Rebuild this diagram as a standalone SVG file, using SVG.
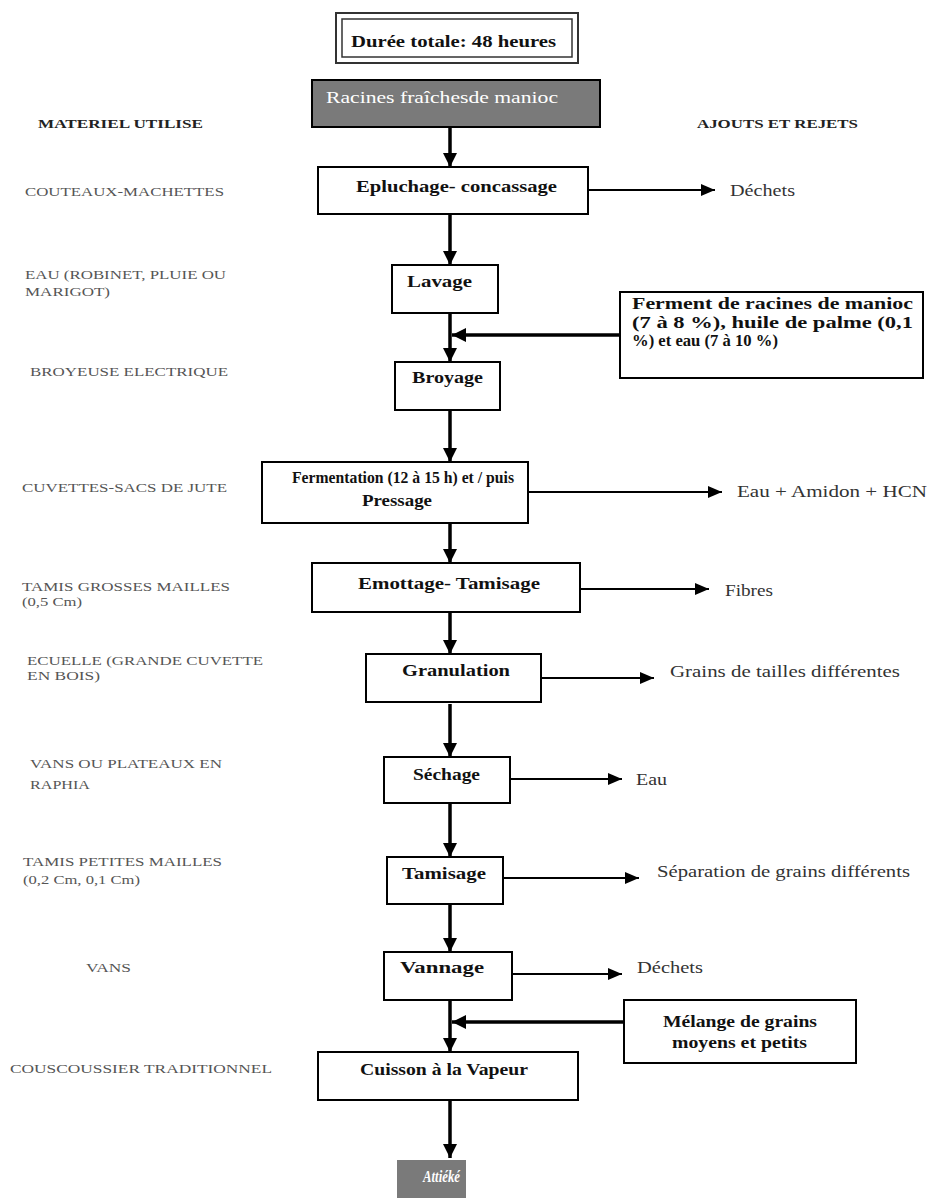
<svg xmlns="http://www.w3.org/2000/svg" width="928" height="1198" viewBox="0 0 928 1198">
  <defs>
    <marker id="headBold" markerUnits="userSpaceOnUse" markerWidth="14" markerHeight="14" viewBox="0 0 14 14" refX="14" refY="7" orient="auto">
      <path d="M0,0 L14,7 L0,14 Z" fill="#000"/>
    </marker>
    <marker id="headThin" markerUnits="userSpaceOnUse" markerWidth="14" markerHeight="12" viewBox="0 0 14 12" refX="14" refY="6" orient="auto">
      <path d="M0,0 L14,6 L0,12 Z" fill="#000"/>
    </marker>
  </defs>
  <style>
    text { font-family: "Liberation Serif", "DejaVu Serif", "Times New Roman", serif; }
    .box { fill: #fff; stroke: #000; stroke-width: 2; }
    .dark { fill: #7a7a7a; stroke: #000; stroke-width: 2; }
    .step { font-weight: bold; font-size: 16.5px; fill: #111; }
    .inv { font-size: 17px; fill: #fff; }
    .mat { font-size: 13px; fill: #555; }
    .head { font-weight: bold; font-size: 12.5px; fill: #222; }
    .out { font-size: 16.5px; fill: #333; }
    .flow { stroke: #000; stroke-width: 3.5; fill: none; }
    .side { stroke: #000; stroke-width: 2; fill: none; }
  </style>

  <rect width="928" height="1198" fill="#fff"/>

  <!-- column headings -->
  <g id="headings">
    <text class="head" x="38" y="128" textLength="165" lengthAdjust="spacingAndGlyphs">MATERIEL UTILISE</text>
    <text class="head" x="697" y="128" textLength="161" lengthAdjust="spacingAndGlyphs">AJOUTS ET REJETS</text>
  </g>

  <!-- equipment column -->
  <g id="materials">
    <text class="mat" x="25" y="196" textLength="199" lengthAdjust="spacingAndGlyphs">COUTEAUX-MACHETTES</text>
    <text class="mat" x="25" y="279" textLength="201" lengthAdjust="spacingAndGlyphs">EAU (ROBINET, PLUIE OU</text>
    <text class="mat" x="25" y="296" textLength="85" lengthAdjust="spacingAndGlyphs">MARIGOT)</text>
    <text class="mat" x="30" y="376" textLength="198" lengthAdjust="spacingAndGlyphs">BROYEUSE ELECTRIQUE</text>
    <text class="mat" x="22" y="492" textLength="205" lengthAdjust="spacingAndGlyphs">CUVETTES-SACS DE JUTE</text>
    <text class="mat" x="22" y="591" textLength="208" lengthAdjust="spacingAndGlyphs">TAMIS GROSSES MAILLES</text>
    <text class="mat" x="22" y="606" textLength="60" lengthAdjust="spacingAndGlyphs">(0,5 Cm)</text>
    <text class="mat" x="27" y="665" textLength="236" lengthAdjust="spacingAndGlyphs">ECUELLE (GRANDE CUVETTE</text>
    <text class="mat" x="27" y="680" textLength="73" lengthAdjust="spacingAndGlyphs">EN BOIS)</text>
    <text class="mat" x="30" y="768" textLength="192" lengthAdjust="spacingAndGlyphs">VANS OU PLATEAUX EN</text>
    <text class="mat" x="30" y="789" textLength="60" lengthAdjust="spacingAndGlyphs">RAPHIA</text>
    <text class="mat" x="23" y="866" textLength="199" lengthAdjust="spacingAndGlyphs">TAMIS PETITES MAILLES</text>
    <text class="mat" x="23" y="884" textLength="117" lengthAdjust="spacingAndGlyphs">(0,2 Cm, 0,1 Cm)</text>
    <text class="mat" x="86" y="972" textLength="45" lengthAdjust="spacingAndGlyphs">VANS</text>
    <text class="mat" x="10" y="1073" textLength="262" lengthAdjust="spacingAndGlyphs">COUSCOUSSIER TRADITIONNEL</text>
  </g>

  <!-- connectors -->
  <g id="connectors">
    <line class="flow" x1="450" y1="127" x2="450" y2="167" marker-end="url(#headBold)"/>
    <line class="flow" x1="450" y1="214" x2="450" y2="265" marker-end="url(#headBold)"/>
    <line class="flow" x1="450" y1="313" x2="450" y2="362" marker-end="url(#headBold)"/>
    <line class="flow" x1="450" y1="410" x2="450" y2="462" marker-end="url(#headBold)"/>
    <line class="flow" x1="450" y1="523" x2="450" y2="563" marker-end="url(#headBold)"/>
    <line class="flow" x1="450" y1="612" x2="450" y2="654" marker-end="url(#headBold)"/>
    <line class="flow" x1="450" y1="704" x2="450" y2="757" marker-end="url(#headBold)"/>
    <line class="flow" x1="450" y1="803" x2="450" y2="857" marker-end="url(#headBold)"/>
    <line class="flow" x1="450" y1="904" x2="450" y2="952" marker-end="url(#headBold)"/>
    <line class="flow" x1="450" y1="1000" x2="450" y2="1052" marker-end="url(#headBold)"/>
    <line class="flow" x1="450" y1="1100" x2="450" y2="1158" marker-end="url(#headBold)"/>
    <!-- inputs fed into the main line -->
    <line class="flow" x1="620" y1="335" x2="452" y2="335" marker-end="url(#headBold)"/>
    <line class="flow" x1="624" y1="1022" x2="452" y2="1022" marker-end="url(#headBold)"/>
    <!-- outputs leaving each step -->
    <line class="side" x1="588" y1="190" x2="715" y2="190" marker-end="url(#headThin)"/>
    <line class="side" x1="528" y1="492" x2="722" y2="492" marker-end="url(#headThin)"/>
    <line class="side" x1="580" y1="589" x2="709" y2="589" marker-end="url(#headThin)"/>
    <line class="side" x1="541" y1="678" x2="654" y2="678" marker-end="url(#headThin)"/>
    <line class="side" x1="510" y1="779" x2="622" y2="779" marker-end="url(#headThin)"/>
    <line class="side" x1="503" y1="878" x2="639" y2="878" marker-end="url(#headThin)"/>
    <line class="side" x1="512" y1="974" x2="622" y2="974" marker-end="url(#headThin)"/>
  </g>

  <!-- process steps -->
  <g id="duree">
    <rect x="336" y="13" width="242" height="50" fill="#fff" stroke="#333" stroke-width="2"/>
    <rect x="342" y="19" width="230" height="38" fill="none" stroke="#333" stroke-width="1.5"/>
    <text class="step" x="351" y="47" textLength="205" lengthAdjust="spacingAndGlyphs">Durée totale: 48 heures</text>
  </g>
  <g id="racines">
    <rect class="dark" x="312" y="80" width="288" height="47"/>
    <text class="inv" x="326" y="103" textLength="232" lengthAdjust="spacingAndGlyphs">Racines fraîchesde manioc</text>
  </g>
  <g id="epluchage">
    <rect class="box" x="318" y="167" width="270" height="47"/>
    <text class="step" x="356" y="192" textLength="201" lengthAdjust="spacingAndGlyphs">Epluchage- concassage</text>
  </g>
  <g id="dechets1"><text class="out" x="730" y="196" textLength="65" lengthAdjust="spacingAndGlyphs">Déchets</text></g>
  <g id="lavage">
    <rect class="box" x="392" y="265" width="106" height="48"/>
    <text class="step" x="407" y="287" textLength="65" lengthAdjust="spacingAndGlyphs">Lavage</text>
  </g>
  <g id="ferment">
    <rect class="box" x="620" y="292" width="303" height="86"/>
    <text class="step" x="632" y="309" textLength="281" lengthAdjust="spacingAndGlyphs">Ferment de racines de manioc</text>
    <text class="step" x="632" y="328" textLength="281" lengthAdjust="spacingAndGlyphs">(7 à 8 %), huile de palme (0,1</text>
    <text class="step" x="632" y="346" textLength="146" lengthAdjust="spacingAndGlyphs">%) et eau (7 à 10 %)</text>
  </g>
  <g id="broyage">
    <rect class="box" x="395" y="362" width="105" height="48"/>
    <text class="step" x="412" y="383" textLength="71" lengthAdjust="spacingAndGlyphs">Broyage</text>
  </g>
  <g id="fermentation">
    <rect class="box" x="262" y="462" width="266" height="61"/>
    <text class="step" x="292" y="483" textLength="222" lengthAdjust="spacingAndGlyphs">Fermentation (12 à 15 h) et / puis</text>
    <text class="step" x="362" y="506" textLength="70" lengthAdjust="spacingAndGlyphs">Pressage</text>
  </g>
  <g id="eau-amidon"><text class="out" x="737" y="497" textLength="190" lengthAdjust="spacingAndGlyphs">Eau + Amidon + HCN</text></g>
  <g id="emottage">
    <rect class="box" x="312" y="563" width="268" height="49"/>
    <text class="step" x="358" y="589" textLength="182" lengthAdjust="spacingAndGlyphs">Emottage- Tamisage</text>
  </g>
  <g id="fibres"><text class="out" x="725" y="596" textLength="48" lengthAdjust="spacingAndGlyphs">Fibres</text></g>
  <g id="granulation">
    <rect class="box" x="366" y="654" width="175" height="48"/>
    <text class="step" x="402" y="676" textLength="108" lengthAdjust="spacingAndGlyphs">Granulation</text>
  </g>
  <g id="grains"><text class="out" x="670" y="677" textLength="230" lengthAdjust="spacingAndGlyphs">Grains de tailles différentes</text></g>
  <g id="sechage">
    <rect class="box" x="384" y="757" width="126" height="46"/>
    <text class="step" x="413" y="780" textLength="67" lengthAdjust="spacingAndGlyphs">Séchage</text>
  </g>
  <g id="eau"><text class="out" x="636" y="785" textLength="31" lengthAdjust="spacingAndGlyphs">Eau</text></g>
  <g id="tamisage">
    <rect class="box" x="387" y="857" width="116" height="47"/>
    <text class="step" x="402" y="879" textLength="84" lengthAdjust="spacingAndGlyphs">Tamisage</text>
  </g>
  <g id="separation"><text class="out" x="657" y="877" textLength="253" lengthAdjust="spacingAndGlyphs">Séparation de grains différents</text></g>
  <g id="vannage">
    <rect class="box" x="384" y="952" width="128" height="48"/>
    <text class="step" x="400" y="973" textLength="84" lengthAdjust="spacingAndGlyphs">Vannage</text>
  </g>
  <g id="dechets2"><text class="out" x="637" y="973" textLength="66" lengthAdjust="spacingAndGlyphs">Déchets</text></g>
  <g id="melange">
    <rect class="box" x="624" y="1000" width="232" height="63"/>
    <text class="step" x="663" y="1027" textLength="154" lengthAdjust="spacingAndGlyphs">Mélange de grains</text>
    <text class="step" x="672" y="1048" textLength="135" lengthAdjust="spacingAndGlyphs">moyens et petits</text>
  </g>
  <g id="cuisson">
    <rect class="box" x="318" y="1052" width="260" height="48"/>
    <text class="step" x="360" y="1075" textLength="168" lengthAdjust="spacingAndGlyphs">Cuisson à la Vapeur</text>
  </g>
  <g id="attieke">
    <rect x="397" y="1160" width="69" height="40" fill="#7a7a7a"/>
    <text class="inv" x="423" y="1182" font-size="13" font-weight="bold" font-style="italic" textLength="37" lengthAdjust="spacingAndGlyphs">Attiéké</text>
  </g>
</svg>
